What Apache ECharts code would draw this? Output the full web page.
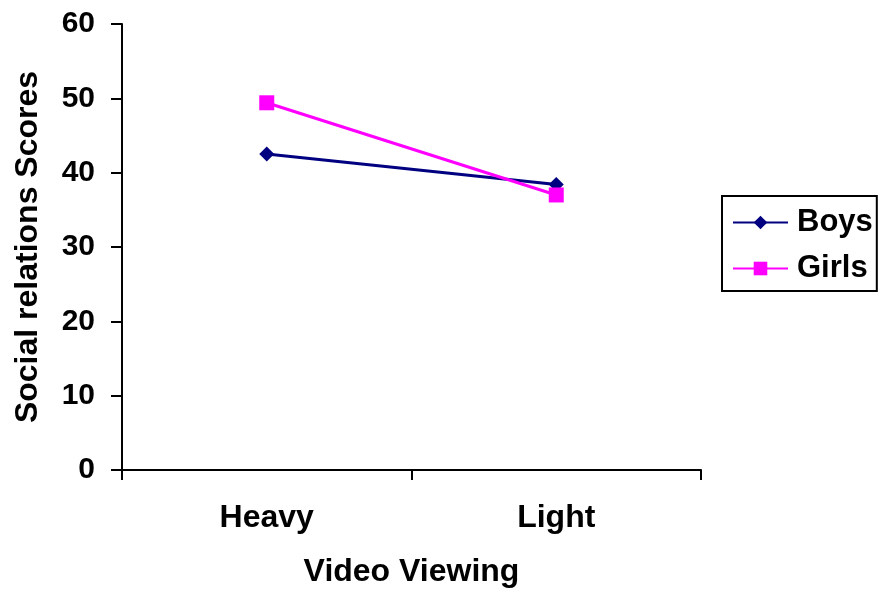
<!DOCTYPE html>
<html>
<head>
<meta charset="utf-8">
<script src="https://cdn.jsdelivr.net/npm/echarts@6/dist/echarts.min.js"></script>
<style>
html, body { margin: 0; padding: 0; background: #fff; }
#chart { width: 879px; height: 593px; }
</style>
</head>
<body>
<div id="chart"></div>
<script>
// Social relations scores by amount of video viewing
const categories = ['Heavy', 'Light'];
const boys = [42.5, 38.4];
const girls = [49.4, 37.0];
const yTicks = { min: 0, max: 60, interval: 10 };

const font = 'Arial, "Liberation Sans", sans-serif';
const textBase = { fontFamily: font, fontWeight: 'bold', color: '#000' };

const chart = echarts.init(document.getElementById('chart'));
chart.setOption({
  backgroundColor: '#ffffff',
  animation: false,
  grid: { left: 122, right: 178, top: 24, bottom: 123, outerBoundsMode: 'none', containLabel: false },
  legend: {
    orient: 'vertical',
    left: 722,
    top: 196,
    padding: [11, 4, 7, 10],
    itemGap: 15,
    itemWidth: 55,
    itemHeight: 17,
    borderColor: '#000',
    borderWidth: 2,
    textStyle: Object.assign({ fontSize: 31, padding: [0, 0, 0, 4] }, textBase),
    data: ['Boys', 'Girls']
  },
  xAxis: {
    type: 'category',
    data: categories,
    boundaryGap: true,
    name: 'Video Viewing',
    nameLocation: 'middle',
    nameGap: 86,
    nameTextStyle: Object.assign({ fontSize: 32 }, textBase),
    axisLine: { lineStyle: { color: '#000', width: 2 } },
    axisTick: { show: true, length: 10, lineStyle: { color: '#000', width: 2 } },
    axisLabel: Object.assign({ fontSize: 32, margin: 32 }, textBase)
  },
  yAxis: {
    type: 'value',
    min: yTicks.min,
    max: yTicks.max,
    interval: yTicks.interval,
    name: 'Social relations Scores',
    nameLocation: 'middle',
    nameGap: 78,
    nameTextStyle: Object.assign({ fontSize: 32 }, textBase),
    axisLine: { show: true, lineStyle: { color: '#000', width: 2 } },
    axisTick: { show: true, length: 11, lineStyle: { color: '#000', width: 2 } },
    axisLabel: Object.assign({ fontSize: 30, margin: 27 }, textBase),
    splitLine: { show: false }
  },
  series: [
    {
      name: 'Boys',
      type: 'line',
      data: boys,
      symbol: 'diamond',
      symbolSize: 15,
      itemStyle: { color: '#000080' },
      lineStyle: { color: '#000080', width: 3 }
    },
    {
      name: 'Girls',
      type: 'line',
      data: girls,
      symbol: 'rect',
      symbolSize: 15,
      itemStyle: { color: '#ff00ff' },
      lineStyle: { color: '#ff00ff', width: 3 }
    }
  ]
});
</script>
</body>
</html>
